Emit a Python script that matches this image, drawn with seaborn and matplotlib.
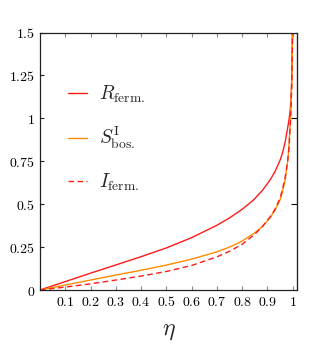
import matplotlib
matplotlib.use("Agg")
import matplotlib.pyplot as plt
import seaborn as sns

# values
eta_r = [0, 0.1, 0.2, 0.3, 0.4, 0.5, 0.6, 0.7, 0.75, 0.8, 0.844, 0.88, 0.91, 0.93, 0.95,
         0.96, 0.97, 0.976, 0.983, 0.989, 0.993, 0.996, 0.998, 1.0]
r_ferm = [0, 0.049, 0.098, 0.146, 0.194, 0.245, 0.305, 0.377, 0.42, 0.47, 0.523, 0.58, 0.64,
          0.69, 0.756, 0.80, 0.86, 0.91, 0.97, 1.03, 1.10, 1.22, 1.4, 1.7]

eta_s = [0, 0.1, 0.2, 0.3, 0.4, 0.5, 0.6, 0.7, 0.75, 0.8, 0.85, 0.88, 0.91, 0.93, 0.95,
         0.96, 0.97, 0.98, 0.985, 0.99, 0.994, 0.997, 0.999, 1.0]
s_bos = [0, 0.029, 0.058, 0.087, 0.115, 0.145, 0.18, 0.222, 0.25, 0.285, 0.333, 0.37, 0.42,
         0.465, 0.525, 0.575, 0.64, 0.75, 0.83, 0.97, 1.1, 1.25, 1.45, 1.7]

eta_i = [0, 0.1, 0.2, 0.3, 0.4, 0.5, 0.6, 0.7, 0.75, 0.8, 0.85, 0.88, 0.91, 0.93, 0.95,
         0.96, 0.97, 0.98, 0.985, 0.99, 0.994, 0.997, 0.999, 1.0]
i_ferm = [0, 0.017, 0.036, 0.058, 0.081, 0.108, 0.143, 0.193, 0.226, 0.266, 0.325, 0.37, 0.425,
          0.47, 0.535, 0.59, 0.655, 0.75, 0.82, 0.95, 1.08, 1.25, 1.45, 1.7]

xticks = [0.1, 0.2, 0.3, 0.4, 0.5, 0.6, 0.7, 0.8, 0.9, 1]
yticks = [0, 0.25, 0.5, 0.75, 1, 1.25, 1.5]
labels = [r"$R_{\rm ferm.}$", r"$S^{\rm I}_{\rm bos.}$", r"$I_{\rm ferm.}$"]

sns.set_style("ticks")
plt.rcParams["mathtext.fontset"] = "cm"
plt.rcParams["font.family"] = ["DejaVu Serif"]

fig = plt.figure(figsize=(3.23, 3.49), dpi=100)
ax = fig.add_axes([40 / 323, 59 / 349, 257 / 323, 257.5 / 349])

sns.lineplot(x=eta_r, y=r_ferm, color="#ff1a1a", lw=1.0, ax=ax, label=labels[0])
sns.lineplot(x=eta_s, y=s_bos, color="#ff8c00", lw=1.0, ax=ax, label=labels[1])
sns.lineplot(x=eta_i, y=i_ferm, color="#ff1a1a", lw=1.0, ax=ax, label=labels[2])
ax.lines[2].set_dashes((4, 2.5))

ax.set_xlim(0, 1.017)
ax.set_ylim(0, 1.5)
ax.set_xticks(xticks, labels=[f"${v:g}$" for v in xticks])
ax.set_yticks(yticks, labels=[f"${v:g}$" for v in yticks])
ax.tick_params(axis="both", direction="in", length=3, width=0.8, labelsize=10,
               colors="#222222", labelcolor="black")
ax.tick_params(axis="x", top=True, color="#888888")
ax.tick_params(axis="y", right=False)

sec = ax.secondary_yaxis("right")
sec.set_yticks([0.5, 1], labels=["", ""])
sec.tick_params(direction="in", length=4, width=0.8, color="black")

for s in ax.spines.values():
    s.set_color("#222222")
    s.set_linewidth(0.9)

ax.set_xlabel(r"$\eta$", fontsize=17, labelpad=7)
ax.set_ylabel("")

leg = ax.legend(loc="upper left", bbox_to_anchor=(0.04, 0.87), frameon=False,
                fontsize=14, handlelength=1.0, labelspacing=1.05, handletextpad=0.6)

fig.savefig("out.png", dpi=100)
